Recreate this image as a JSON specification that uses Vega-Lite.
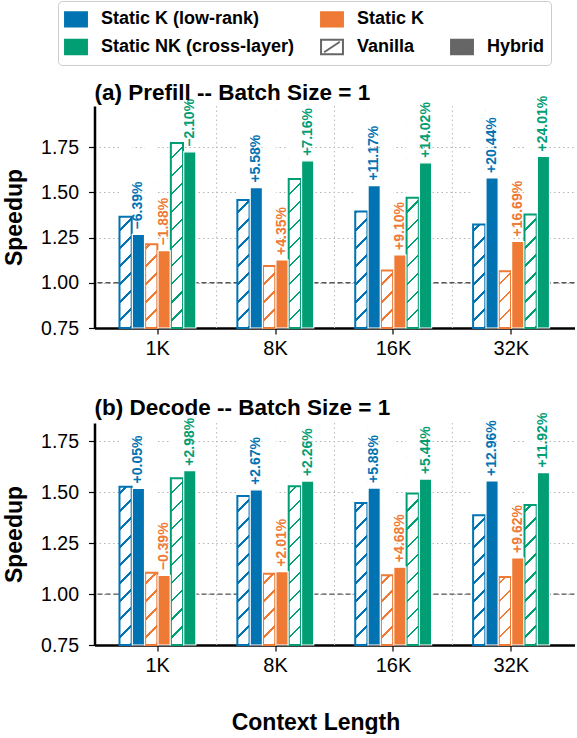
{
  "$schema": "https://vega.github.io/schema/vega-lite/v6.json",
  "autosize": {"type": "pad"},
  "padding": {"left": 3.5, "top": 0, "right": 0, "bottom": 0},
  "background": "white",
  "config": {
    "view": {"stroke": null},
    "font": "Liberation Sans",
    "axis": {"zindex": 1},
    "axisX": {"grid": false, "domainColor": "black", "domainWidth": 2.5, "tickColor": "black", "tickWidth": 1.2, "tickSize": 6, "labelFontSize": 20, "labelColor": "black", "labelAngle": 0, "labelPadding": 4, "titleFontSize": 23, "titleFontWeight": "bold", "titleColor": "black"},
    "axisY": {"grid": true, "gridDash": [1.5, 3], "gridColor": "#b5b5b5", "gridWidth": 1, "domainColor": "black", "domainWidth": 2.5, "tickColor": "black", "tickWidth": 1.2, "tickSize": 6, "labelFontSize": 19.5, "labelColor": "black", "labelPadding": 10, "titleFontSize": 23, "titleFontWeight": "bold", "titleColor": "black", "titlePadding": 14}
  },
  "datasets": {
    "legend": [
      {"entry": "Static K (low-rank)"}, {"entry": "Static NK (cross-layer)"}, {"entry": "Static K"},
      {"entry": "Vanilla"}, {"entry": " "}, {"entry": "Hybrid"}
    ],
    "bars": [
      {"phase": "Prefill", "ctx": "1K", "method": "lr", "kind": "Vanilla", "slot": "lrV", "speedup": 1.365, "label": ""},
      {"phase": "Prefill", "ctx": "1K", "method": "lr", "kind": "Hybrid", "slot": "lrH", "speedup": 1.267, "label": "−6.39%"},
      {"phase": "Prefill", "ctx": "1K", "method": "sk", "kind": "Vanilla", "slot": "skV", "speedup": 1.213, "label": ""},
      {"phase": "Prefill", "ctx": "1K", "method": "sk", "kind": "Hybrid", "slot": "skH", "speedup": 1.178, "label": "−1.88%"},
      {"phase": "Prefill", "ctx": "1K", "method": "nk", "kind": "Vanilla", "slot": "nkV", "speedup": 1.772, "label": ""},
      {"phase": "Prefill", "ctx": "1K", "method": "nk", "kind": "Hybrid", "slot": "nkH", "speedup": 1.724, "label": "−2.10%"},
      {"phase": "Prefill", "ctx": "8K", "method": "lr", "kind": "Vanilla", "slot": "lrV", "speedup": 1.457, "label": ""},
      {"phase": "Prefill", "ctx": "8K", "method": "lr", "kind": "Hybrid", "slot": "lrH", "speedup": 1.526, "label": "+5.58%"},
      {"phase": "Prefill", "ctx": "8K", "method": "sk", "kind": "Vanilla", "slot": "skV", "speedup": 1.092, "label": ""},
      {"phase": "Prefill", "ctx": "8K", "method": "sk", "kind": "Hybrid", "slot": "skH", "speedup": 1.126, "label": "+4.35%"},
      {"phase": "Prefill", "ctx": "8K", "method": "nk", "kind": "Vanilla", "slot": "nkV", "speedup": 1.574, "label": ""},
      {"phase": "Prefill", "ctx": "8K", "method": "nk", "kind": "Hybrid", "slot": "nkH", "speedup": 1.674, "label": "+7.16%"},
      {"phase": "Prefill", "ctx": "16K", "method": "lr", "kind": "Vanilla", "slot": "lrV", "speedup": 1.394, "label": ""},
      {"phase": "Prefill", "ctx": "16K", "method": "lr", "kind": "Hybrid", "slot": "lrH", "speedup": 1.537, "label": "+11.17%"},
      {"phase": "Prefill", "ctx": "16K", "method": "sk", "kind": "Vanilla", "slot": "skV", "speedup": 1.068, "label": ""},
      {"phase": "Prefill", "ctx": "16K", "method": "sk", "kind": "Hybrid", "slot": "skH", "speedup": 1.154, "label": "+9.10%"},
      {"phase": "Prefill", "ctx": "16K", "method": "nk", "kind": "Vanilla", "slot": "nkV", "speedup": 1.470, "label": ""},
      {"phase": "Prefill", "ctx": "16K", "method": "nk", "kind": "Hybrid", "slot": "nkH", "speedup": 1.663, "label": "+14.02%"},
      {"phase": "Prefill", "ctx": "32K", "method": "lr", "kind": "Vanilla", "slot": "lrV", "speedup": 1.322, "label": ""},
      {"phase": "Prefill", "ctx": "32K", "method": "lr", "kind": "Hybrid", "slot": "lrH", "speedup": 1.579, "label": "+20.44%"},
      {"phase": "Prefill", "ctx": "32K", "method": "sk", "kind": "Vanilla", "slot": "skV", "speedup": 1.063, "label": ""},
      {"phase": "Prefill", "ctx": "32K", "method": "sk", "kind": "Hybrid", "slot": "skH", "speedup": 1.228, "label": "+16.69%"},
      {"phase": "Prefill", "ctx": "32K", "method": "nk", "kind": "Vanilla", "slot": "nkV", "speedup": 1.377, "label": ""},
      {"phase": "Prefill", "ctx": "32K", "method": "nk", "kind": "Hybrid", "slot": "nkH", "speedup": 1.698, "label": "+24.01%"},
      {"phase": "Decode", "ctx": "1K", "method": "lr", "kind": "Vanilla", "slot": "lrV", "speedup": 1.526, "label": ""},
      {"phase": "Decode", "ctx": "1K", "method": "lr", "kind": "Hybrid", "slot": "lrH", "speedup": 1.518, "label": "+0.05%"},
      {"phase": "Decode", "ctx": "1K", "method": "sk", "kind": "Vanilla", "slot": "skV", "speedup": 1.105, "label": ""},
      {"phase": "Decode", "ctx": "1K", "method": "sk", "kind": "Hybrid", "slot": "skH", "speedup": 1.092, "label": "−0.39%"},
      {"phase": "Decode", "ctx": "1K", "method": "nk", "kind": "Vanilla", "slot": "nkV", "speedup": 1.568, "label": ""},
      {"phase": "Decode", "ctx": "1K", "method": "nk", "kind": "Hybrid", "slot": "nkH", "speedup": 1.605, "label": "+2.98%"},
      {"phase": "Decode", "ctx": "8K", "method": "lr", "kind": "Vanilla", "slot": "lrV", "speedup": 1.481, "label": ""},
      {"phase": "Decode", "ctx": "8K", "method": "lr", "kind": "Hybrid", "slot": "lrH", "speedup": 1.511, "label": "+2.67%"},
      {"phase": "Decode", "ctx": "8K", "method": "sk", "kind": "Vanilla", "slot": "skV", "speedup": 1.100, "label": ""},
      {"phase": "Decode", "ctx": "8K", "method": "sk", "kind": "Hybrid", "slot": "skH", "speedup": 1.110, "label": "+2.01%"},
      {"phase": "Decode", "ctx": "8K", "method": "nk", "kind": "Vanilla", "slot": "nkV", "speedup": 1.529, "label": ""},
      {"phase": "Decode", "ctx": "8K", "method": "nk", "kind": "Hybrid", "slot": "nkH", "speedup": 1.554, "label": "+2.26%"},
      {"phase": "Decode", "ctx": "16K", "method": "lr", "kind": "Vanilla", "slot": "lrV", "speedup": 1.447, "label": ""},
      {"phase": "Decode", "ctx": "16K", "method": "lr", "kind": "Hybrid", "slot": "lrH", "speedup": 1.520, "label": "+5.88%"},
      {"phase": "Decode", "ctx": "16K", "method": "sk", "kind": "Vanilla", "slot": "skV", "speedup": 1.092, "label": ""},
      {"phase": "Decode", "ctx": "16K", "method": "sk", "kind": "Hybrid", "slot": "skH", "speedup": 1.132, "label": "+4.68%"},
      {"phase": "Decode", "ctx": "16K", "method": "nk", "kind": "Vanilla", "slot": "nkV", "speedup": 1.493, "label": ""},
      {"phase": "Decode", "ctx": "16K", "method": "nk", "kind": "Hybrid", "slot": "nkH", "speedup": 1.564, "label": "+5.44%"},
      {"phase": "Decode", "ctx": "32K", "method": "lr", "kind": "Vanilla", "slot": "lrV", "speedup": 1.387, "label": ""},
      {"phase": "Decode", "ctx": "32K", "method": "lr", "kind": "Hybrid", "slot": "lrH", "speedup": 1.555, "label": "+12.96%"},
      {"phase": "Decode", "ctx": "32K", "method": "sk", "kind": "Vanilla", "slot": "skV", "speedup": 1.083, "label": ""},
      {"phase": "Decode", "ctx": "32K", "method": "sk", "kind": "Hybrid", "slot": "skH", "speedup": 1.177, "label": "+9.62%"},
      {"phase": "Decode", "ctx": "32K", "method": "nk", "kind": "Vanilla", "slot": "nkV", "speedup": 1.437, "label": ""},
      {"phase": "Decode", "ctx": "32K", "method": "nk", "kind": "Hybrid", "slot": "nkH", "speedup": 1.596, "label": "+11.92%"}
    ]
  },
  "bounds": "flush",
  "spacing": 95,
  "resolve": {"scale": {"fill": "independent", "stroke": "independent", "shape": "independent", "x": "independent", "y": "independent", "xOffset": "independent"}},
  "vconcat": [
    {
      "width": 480,
      "height": 1,
      "data": {"name": "legend"},
      "mark": {"type": "point", "opacity": 0, "filled": true, "size": 480, "strokeWidth": 2},
      "encoding": {
        "fill": {"field": "entry", "type": "nominal",
          "scale": {"domain": ["Static K (low-rank)", "Static NK (cross-layer)", "Static K", "Vanilla", " ", "Hybrid"], "range": ["#0173B2", "#029E73", "#EE7A35", "#ffffff", "rgba(0,0,0,0)", "#666666"]},
          "legend": {"title": null, "orient": "none", "legendX": -36.5, "legendY": -9, "columns": 3, "symbolSize": 480, "symbolStrokeWidth": 2, "symbolOpacity": 1, "labelFontSize": 18, "labelFontWeight": "bold", "labelColor": "black", "labelLimit": 400, "labelOffset": 13, "rowPadding": 4, "columnPadding": 22, "padding": 6, "strokeColor": "#cccccc", "fillColor": "white", "cornerRadius": 4}},
        "stroke": {"field": "entry", "type": "nominal",
          "scale": {"domain": ["Static K (low-rank)", "Static NK (cross-layer)", "Static K", "Vanilla", " ", "Hybrid"], "range": ["#0173B2", "#029E73", "#EE7A35", "#666666", "rgba(0,0,0,0)", "#666666"]},
          "legend": {"title": null, "orient": "none", "legendX": -36.5, "legendY": -9, "columns": 3, "symbolSize": 480, "symbolStrokeWidth": 2, "symbolOpacity": 1, "labelFontSize": 18, "labelFontWeight": "bold", "labelColor": "black", "labelLimit": 400, "labelOffset": 13, "rowPadding": 4, "columnPadding": 22, "padding": 6, "strokeColor": "#cccccc", "fillColor": "white", "cornerRadius": 4}},
        "shape": {"field": "entry", "type": "nominal",
          "scale": {"domain": ["Static K (low-rank)", "Static NK (cross-layer)", "Static K", "Vanilla", " ", "Hybrid"], "range": ["M-1,-0.66H1V0.66H-1Z", "M-1,-0.66H1V0.66H-1Z", "M-1,-0.66H1V0.66H-1Z", "M-1,-0.66H1V0.66H-1Z M-0.72,0.48L0.72,-0.48", "M-1,-0.66H1V0.66H-1Z", "M-1,-0.66H1V0.66H-1Z"]},
          "legend": {"title": null, "orient": "none", "legendX": -36.5, "legendY": -9, "columns": 3, "symbolSize": 480, "symbolStrokeWidth": 2, "symbolOpacity": 1, "labelFontSize": 18, "labelFontWeight": "bold", "labelColor": "black", "labelLimit": 400, "labelOffset": 13, "rowPadding": 4, "columnPadding": 22, "padding": 6, "strokeColor": "#cccccc", "fillColor": "white", "cornerRadius": 4}}
      }
    },
    {
      "width": 480,
      "height": 222,
      "title": {"text": "(a) Prefill -- Batch Size = 1", "anchor": "start", "frame": "group", "fontSize": 22.5, "fontWeight": "bold", "offset": -27, "baseline": "alphabetic", "color": "black"},
      "layer": [
        {"data": {"name": "bars"}, "transform": [{"filter": "datum.phase==='Prefill' && datum.kind==='Hybrid' && datum.method==='lr' && datum.ctx!=='1K'"}],
         "mark": {"type": "rule", "color": "#bbbbbb", "strokeDash": [1.5, 3], "strokeWidth": 1},
         "encoding": {"x": {"field": "ctx", "type": "nominal", "title": null, "bandPosition": 0, "scale": {"domain": ["1K", "8K", "16K", "32K"], "paddingInner": 0, "paddingOuter": 0.036}}}},
        {"data": {"values": [{}]},
         "mark": {"type": "rule", "color": "#555555", "strokeDash": [5, 3], "strokeWidth": 1.3},
         "encoding": {"y": {"datum": 1, "type": "quantitative"}}},
        {"data": {"name": "bars"}, "transform": [{"filter": "datum.phase==='Prefill' && datum.kind==='Vanilla' && datum.method==='lr'"}],
         "mark": {"type": "bar", "orient": "vertical", "width": 12.2, "strokeWidth": 0, "fill": {"gradient": "linear", "x1": 0, "y1": 0, "x2": 0.0578, "y2": 1.0518, "stops": [
           {"offset": 0, "color": "#ffffff"}, {"offset": 0.0654, "color": "#ffffff"}, {"offset": 0.0654, "color": "#0173B2"}, {"offset": 0.0769, "color": "#0173B2"},
           {"offset": 0.0769, "color": "#ffffff"}, {"offset": 0.1423, "color": "#ffffff"}, {"offset": 0.1423, "color": "#0173B2"}, {"offset": 0.1538, "color": "#0173B2"},
           {"offset": 0.1538, "color": "#ffffff"}, {"offset": 0.2192, "color": "#ffffff"}, {"offset": 0.2192, "color": "#0173B2"}, {"offset": 0.2308, "color": "#0173B2"},
           {"offset": 0.2308, "color": "#ffffff"}, {"offset": 0.2962, "color": "#ffffff"}, {"offset": 0.2962, "color": "#0173B2"}, {"offset": 0.3077, "color": "#0173B2"},
           {"offset": 0.3077, "color": "#ffffff"}, {"offset": 0.3731, "color": "#ffffff"}, {"offset": 0.3731, "color": "#0173B2"}, {"offset": 0.3846, "color": "#0173B2"},
           {"offset": 0.3846, "color": "#ffffff"}, {"offset": 0.45, "color": "#ffffff"}, {"offset": 0.45, "color": "#0173B2"}, {"offset": 0.4615, "color": "#0173B2"},
           {"offset": 0.4615, "color": "#ffffff"}, {"offset": 0.5269, "color": "#ffffff"}, {"offset": 0.5269, "color": "#0173B2"}, {"offset": 0.5385, "color": "#0173B2"},
           {"offset": 0.5385, "color": "#ffffff"}, {"offset": 0.6038, "color": "#ffffff"}, {"offset": 0.6038, "color": "#0173B2"}, {"offset": 0.6154, "color": "#0173B2"},
           {"offset": 0.6154, "color": "#ffffff"}, {"offset": 0.6808, "color": "#ffffff"}, {"offset": 0.6808, "color": "#0173B2"}, {"offset": 0.6923, "color": "#0173B2"},
           {"offset": 0.6923, "color": "#ffffff"}, {"offset": 0.7577, "color": "#ffffff"}, {"offset": 0.7577, "color": "#0173B2"}, {"offset": 0.7692, "color": "#0173B2"},
           {"offset": 0.7692, "color": "#ffffff"}, {"offset": 0.8346, "color": "#ffffff"}, {"offset": 0.8346, "color": "#0173B2"}, {"offset": 0.8462, "color": "#0173B2"},
           {"offset": 0.8462, "color": "#ffffff"}, {"offset": 0.9115, "color": "#ffffff"}, {"offset": 0.9115, "color": "#0173B2"}, {"offset": 0.9231, "color": "#0173B2"},
           {"offset": 0.9231, "color": "#ffffff"}, {"offset": 0.9885, "color": "#ffffff"}, {"offset": 0.9885, "color": "#0173B2"}, {"offset": 1, "color": "#0173B2"}]}},
         "encoding": {
           "x": {"field": "ctx", "type": "nominal", "title": null, "scale": {"domain": ["1K", "8K", "16K", "32K"], "paddingInner": 0, "paddingOuter": 0.036}},
           "xOffset": {"field": "slot", "type": "nominal", "scale": {"domain": ["_l", "lrV", "lrH", "skV", "skH", "nkV", "nkH", "_r"], "paddingInner": 0, "paddingOuter": 0.59}},
           "y": {"datum": 1.977, "type": "quantitative"}, "y2": {"datum": 0.75}}},
        {"data": {"name": "bars"}, "transform": [{"filter": "datum.phase==='Prefill' && datum.kind==='Vanilla' && datum.method==='sk'"}],
         "mark": {"type": "bar", "orient": "vertical", "width": 12.2, "strokeWidth": 0, "fill": {"gradient": "linear", "x1": 0, "y1": 0, "x2": 0.0578, "y2": 1.0518, "stops": [
           {"offset": 0, "color": "#ffffff"}, {"offset": 0.0654, "color": "#ffffff"}, {"offset": 0.0654, "color": "#EE7A35"}, {"offset": 0.0769, "color": "#EE7A35"},
           {"offset": 0.0769, "color": "#ffffff"}, {"offset": 0.1423, "color": "#ffffff"}, {"offset": 0.1423, "color": "#EE7A35"}, {"offset": 0.1538, "color": "#EE7A35"},
           {"offset": 0.1538, "color": "#ffffff"}, {"offset": 0.2192, "color": "#ffffff"}, {"offset": 0.2192, "color": "#EE7A35"}, {"offset": 0.2308, "color": "#EE7A35"},
           {"offset": 0.2308, "color": "#ffffff"}, {"offset": 0.2962, "color": "#ffffff"}, {"offset": 0.2962, "color": "#EE7A35"}, {"offset": 0.3077, "color": "#EE7A35"},
           {"offset": 0.3077, "color": "#ffffff"}, {"offset": 0.3731, "color": "#ffffff"}, {"offset": 0.3731, "color": "#EE7A35"}, {"offset": 0.3846, "color": "#EE7A35"},
           {"offset": 0.3846, "color": "#ffffff"}, {"offset": 0.45, "color": "#ffffff"}, {"offset": 0.45, "color": "#EE7A35"}, {"offset": 0.4615, "color": "#EE7A35"},
           {"offset": 0.4615, "color": "#ffffff"}, {"offset": 0.5269, "color": "#ffffff"}, {"offset": 0.5269, "color": "#EE7A35"}, {"offset": 0.5385, "color": "#EE7A35"},
           {"offset": 0.5385, "color": "#ffffff"}, {"offset": 0.6038, "color": "#ffffff"}, {"offset": 0.6038, "color": "#EE7A35"}, {"offset": 0.6154, "color": "#EE7A35"},
           {"offset": 0.6154, "color": "#ffffff"}, {"offset": 0.6808, "color": "#ffffff"}, {"offset": 0.6808, "color": "#EE7A35"}, {"offset": 0.6923, "color": "#EE7A35"},
           {"offset": 0.6923, "color": "#ffffff"}, {"offset": 0.7577, "color": "#ffffff"}, {"offset": 0.7577, "color": "#EE7A35"}, {"offset": 0.7692, "color": "#EE7A35"},
           {"offset": 0.7692, "color": "#ffffff"}, {"offset": 0.8346, "color": "#ffffff"}, {"offset": 0.8346, "color": "#EE7A35"}, {"offset": 0.8462, "color": "#EE7A35"},
           {"offset": 0.8462, "color": "#ffffff"}, {"offset": 0.9115, "color": "#ffffff"}, {"offset": 0.9115, "color": "#EE7A35"}, {"offset": 0.9231, "color": "#EE7A35"},
           {"offset": 0.9231, "color": "#ffffff"}, {"offset": 0.9885, "color": "#ffffff"}, {"offset": 0.9885, "color": "#EE7A35"}, {"offset": 1, "color": "#EE7A35"}]}},
         "encoding": {
           "x": {"field": "ctx", "type": "nominal", "title": null, "scale": {"domain": ["1K", "8K", "16K", "32K"], "paddingInner": 0, "paddingOuter": 0.036}},
           "xOffset": {"field": "slot", "type": "nominal", "scale": {"domain": ["_l", "lrV", "lrH", "skV", "skH", "nkV", "nkH", "_r"], "paddingInner": 0, "paddingOuter": 0.59}},
           "y": {"datum": 1.977, "type": "quantitative"}, "y2": {"datum": 0.75}}},
        {"data": {"name": "bars"}, "transform": [{"filter": "datum.phase==='Prefill' && datum.kind==='Vanilla' && datum.method==='nk'"}],
         "mark": {"type": "bar", "orient": "vertical", "width": 12.2, "strokeWidth": 0, "fill": {"gradient": "linear", "x1": 0, "y1": 0, "x2": 0.0578, "y2": 1.0518, "stops": [
           {"offset": 0, "color": "#ffffff"}, {"offset": 0.0654, "color": "#ffffff"}, {"offset": 0.0654, "color": "#029E73"}, {"offset": 0.0769, "color": "#029E73"},
           {"offset": 0.0769, "color": "#ffffff"}, {"offset": 0.1423, "color": "#ffffff"}, {"offset": 0.1423, "color": "#029E73"}, {"offset": 0.1538, "color": "#029E73"},
           {"offset": 0.1538, "color": "#ffffff"}, {"offset": 0.2192, "color": "#ffffff"}, {"offset": 0.2192, "color": "#029E73"}, {"offset": 0.2308, "color": "#029E73"},
           {"offset": 0.2308, "color": "#ffffff"}, {"offset": 0.2962, "color": "#ffffff"}, {"offset": 0.2962, "color": "#029E73"}, {"offset": 0.3077, "color": "#029E73"},
           {"offset": 0.3077, "color": "#ffffff"}, {"offset": 0.3731, "color": "#ffffff"}, {"offset": 0.3731, "color": "#029E73"}, {"offset": 0.3846, "color": "#029E73"},
           {"offset": 0.3846, "color": "#ffffff"}, {"offset": 0.45, "color": "#ffffff"}, {"offset": 0.45, "color": "#029E73"}, {"offset": 0.4615, "color": "#029E73"},
           {"offset": 0.4615, "color": "#ffffff"}, {"offset": 0.5269, "color": "#ffffff"}, {"offset": 0.5269, "color": "#029E73"}, {"offset": 0.5385, "color": "#029E73"},
           {"offset": 0.5385, "color": "#ffffff"}, {"offset": 0.6038, "color": "#ffffff"}, {"offset": 0.6038, "color": "#029E73"}, {"offset": 0.6154, "color": "#029E73"},
           {"offset": 0.6154, "color": "#ffffff"}, {"offset": 0.6808, "color": "#ffffff"}, {"offset": 0.6808, "color": "#029E73"}, {"offset": 0.6923, "color": "#029E73"},
           {"offset": 0.6923, "color": "#ffffff"}, {"offset": 0.7577, "color": "#ffffff"}, {"offset": 0.7577, "color": "#029E73"}, {"offset": 0.7692, "color": "#029E73"},
           {"offset": 0.7692, "color": "#ffffff"}, {"offset": 0.8346, "color": "#ffffff"}, {"offset": 0.8346, "color": "#029E73"}, {"offset": 0.8462, "color": "#029E73"},
           {"offset": 0.8462, "color": "#ffffff"}, {"offset": 0.9115, "color": "#ffffff"}, {"offset": 0.9115, "color": "#029E73"}, {"offset": 0.9231, "color": "#029E73"},
           {"offset": 0.9231, "color": "#ffffff"}, {"offset": 0.9885, "color": "#ffffff"}, {"offset": 0.9885, "color": "#029E73"}, {"offset": 1, "color": "#029E73"}]}},
         "encoding": {
           "x": {"field": "ctx", "type": "nominal", "title": null, "scale": {"domain": ["1K", "8K", "16K", "32K"], "paddingInner": 0, "paddingOuter": 0.036}},
           "xOffset": {"field": "slot", "type": "nominal", "scale": {"domain": ["_l", "lrV", "lrH", "skV", "skH", "nkV", "nkH", "_r"], "paddingInner": 0, "paddingOuter": 0.59}},
           "y": {"datum": 1.977, "type": "quantitative"}, "y2": {"datum": 0.75}}},
        {"data": {"name": "bars"}, "transform": [{"filter": "datum.phase==='Prefill' && datum.kind==='Vanilla'"}],
         "mark": {"type": "bar", "orient": "vertical", "width": 13.2, "strokeWidth": 0, "fill": "white", "clip": true},
         "encoding": {
           "x": {"field": "ctx", "type": "nominal", "title": null, "scale": {"domain": ["1K", "8K", "16K", "32K"], "paddingInner": 0, "paddingOuter": 0.036}},
           "xOffset": {"field": "slot", "type": "nominal", "scale": {"domain": ["_l", "lrV", "lrH", "skV", "skH", "nkV", "nkH", "_r"], "paddingInner": 0, "paddingOuter": 0.59}},
           "y": {"field": "speedup", "type": "quantitative", "title": "Speedup", "scale": {"domain": [0.75, 1.977], "nice": false, "zero": false}, "axis": {"values": [0.75, 1, 1.25, 1.5, 1.75], "format": ".2f"}},
           "y2": {"datum": 2.6}}},
        {"data": {"name": "bars"}, "transform": [{"filter": "datum.phase==='Prefill' && datum.kind==='Vanilla'"}],
         "mark": {"type": "bar", "orient": "vertical", "width": 12.2, "fillOpacity": 0, "strokeWidth": 2},
         "encoding": {
           "x": {"field": "ctx", "type": "nominal", "title": null, "scale": {"domain": ["1K", "8K", "16K", "32K"], "paddingInner": 0, "paddingOuter": 0.036}},
           "xOffset": {"field": "slot", "type": "nominal", "scale": {"domain": ["_l", "lrV", "lrH", "skV", "skH", "nkV", "nkH", "_r"], "paddingInner": 0, "paddingOuter": 0.59}},
           "y": {"field": "speedup", "type": "quantitative", "title": "Speedup", "scale": {"domain": [0.75, 1.977], "nice": false, "zero": false}, "axis": {"values": [0.75, 1, 1.25, 1.5, 1.75], "format": ".2f"}},
           "y2": {"datum": 0.75},
           "stroke": {"field": "method", "type": "nominal", "scale": {"domain": ["lr", "sk", "nk"], "range": ["#0173B2", "#EE7A35", "#029E73"]}, "legend": null}}},
        {"data": {"name": "bars"}, "transform": [{"filter": "datum.phase==='Prefill' && datum.kind==='Hybrid'"}],
         "mark": {"type": "bar", "orient": "vertical", "width": 12.2, "stroke": "white", "strokeWidth": 1.2},
         "encoding": {
           "x": {"field": "ctx", "type": "nominal", "title": null, "scale": {"domain": ["1K", "8K", "16K", "32K"], "paddingInner": 0, "paddingOuter": 0.036}},
           "xOffset": {"field": "slot", "type": "nominal", "scale": {"domain": ["_l", "lrV", "lrH", "skV", "skH", "nkV", "nkH", "_r"], "paddingInner": 0, "paddingOuter": 0.59}},
           "y": {"field": "speedup", "type": "quantitative", "title": "Speedup", "scale": {"domain": [0.75, 1.977], "nice": false, "zero": false}, "axis": {"values": [0.75, 1, 1.25, 1.5, 1.75], "format": ".2f"}},
           "y2": {"datum": 0.75},
           "fill": {"field": "method", "type": "nominal", "scale": {"domain": ["lr", "sk", "nk"], "range": ["#0173B2", "#EE7A35", "#029E73"]}, "legend": null}}},
        {"data": {"name": "bars"}, "transform": [{"filter": "datum.phase==='Prefill' && datum.kind==='Hybrid'"}],
         "mark": {"type": "text", "angle": 270, "align": "left", "baseline": "middle", "dx": 5, "fontSize": 14, "fontWeight": "bold"},
         "encoding": {
           "x": {"field": "ctx", "type": "nominal", "title": null, "scale": {"domain": ["1K", "8K", "16K", "32K"], "paddingInner": 0, "paddingOuter": 0.036}},
           "xOffset": {"field": "slot", "type": "nominal", "scale": {"domain": ["_l", "lrV", "lrH", "skV", "skH", "nkV", "nkH", "_r"], "paddingInner": 0, "paddingOuter": 0.59}},
           "y": {"field": "speedup", "type": "quantitative", "title": "Speedup", "scale": {"domain": [0.75, 1.977], "nice": false, "zero": false}, "axis": {"values": [0.75, 1, 1.25, 1.5, 1.75], "format": ".2f"}},
           "text": {"field": "label"},
           "fill": {"field": "method", "type": "nominal", "scale": {"domain": ["lr", "sk", "nk"], "range": ["#0173B2", "#EE7A35", "#029E73"]}, "legend": null}}}
      ]
    },
    {
      "width": 480,
      "height": 222,
      "title": {"text": "(b) Decode -- Batch Size = 1", "anchor": "start", "frame": "group", "fontSize": 22.5, "fontWeight": "bold", "offset": -25, "baseline": "alphabetic", "color": "black"},
      "layer": [
        {"data": {"name": "bars"}, "transform": [{"filter": "datum.phase==='Decode' && datum.kind==='Hybrid' && datum.method==='lr' && datum.ctx!=='1K'"}],
         "mark": {"type": "rule", "color": "#bbbbbb", "strokeDash": [1.5, 3], "strokeWidth": 1},
         "encoding": {"x": {"field": "ctx", "type": "nominal", "title": "Context Length", "bandPosition": 0, "scale": {"domain": ["1K", "8K", "16K", "32K"], "paddingInner": 0, "paddingOuter": 0.036}, "axis": {"titleX": 221, "titlePadding": 36}}}},
        {"data": {"values": [{}]},
         "mark": {"type": "rule", "color": "#555555", "strokeDash": [5, 3], "strokeWidth": 1.3},
         "encoding": {"y": {"datum": 1, "type": "quantitative"}}},
        {"data": {"name": "bars"}, "transform": [{"filter": "datum.phase==='Decode' && datum.kind==='Vanilla' && datum.method==='lr'"}],
         "mark": {"type": "bar", "orient": "vertical", "width": 12.2, "strokeWidth": 0, "fill": {"gradient": "linear", "x1": 0, "y1": 0, "x2": 0.0578, "y2": 1.0518, "stops": [
           {"offset": 0, "color": "#ffffff"}, {"offset": 0.0654, "color": "#ffffff"}, {"offset": 0.0654, "color": "#0173B2"}, {"offset": 0.0769, "color": "#0173B2"},
           {"offset": 0.0769, "color": "#ffffff"}, {"offset": 0.1423, "color": "#ffffff"}, {"offset": 0.1423, "color": "#0173B2"}, {"offset": 0.1538, "color": "#0173B2"},
           {"offset": 0.1538, "color": "#ffffff"}, {"offset": 0.2192, "color": "#ffffff"}, {"offset": 0.2192, "color": "#0173B2"}, {"offset": 0.2308, "color": "#0173B2"},
           {"offset": 0.2308, "color": "#ffffff"}, {"offset": 0.2962, "color": "#ffffff"}, {"offset": 0.2962, "color": "#0173B2"}, {"offset": 0.3077, "color": "#0173B2"},
           {"offset": 0.3077, "color": "#ffffff"}, {"offset": 0.3731, "color": "#ffffff"}, {"offset": 0.3731, "color": "#0173B2"}, {"offset": 0.3846, "color": "#0173B2"},
           {"offset": 0.3846, "color": "#ffffff"}, {"offset": 0.45, "color": "#ffffff"}, {"offset": 0.45, "color": "#0173B2"}, {"offset": 0.4615, "color": "#0173B2"},
           {"offset": 0.4615, "color": "#ffffff"}, {"offset": 0.5269, "color": "#ffffff"}, {"offset": 0.5269, "color": "#0173B2"}, {"offset": 0.5385, "color": "#0173B2"},
           {"offset": 0.5385, "color": "#ffffff"}, {"offset": 0.6038, "color": "#ffffff"}, {"offset": 0.6038, "color": "#0173B2"}, {"offset": 0.6154, "color": "#0173B2"},
           {"offset": 0.6154, "color": "#ffffff"}, {"offset": 0.6808, "color": "#ffffff"}, {"offset": 0.6808, "color": "#0173B2"}, {"offset": 0.6923, "color": "#0173B2"},
           {"offset": 0.6923, "color": "#ffffff"}, {"offset": 0.7577, "color": "#ffffff"}, {"offset": 0.7577, "color": "#0173B2"}, {"offset": 0.7692, "color": "#0173B2"},
           {"offset": 0.7692, "color": "#ffffff"}, {"offset": 0.8346, "color": "#ffffff"}, {"offset": 0.8346, "color": "#0173B2"}, {"offset": 0.8462, "color": "#0173B2"},
           {"offset": 0.8462, "color": "#ffffff"}, {"offset": 0.9115, "color": "#ffffff"}, {"offset": 0.9115, "color": "#0173B2"}, {"offset": 0.9231, "color": "#0173B2"},
           {"offset": 0.9231, "color": "#ffffff"}, {"offset": 0.9885, "color": "#ffffff"}, {"offset": 0.9885, "color": "#0173B2"}, {"offset": 1, "color": "#0173B2"}]}},
         "encoding": {
           "x": {"field": "ctx", "type": "nominal", "title": "Context Length", "scale": {"domain": ["1K", "8K", "16K", "32K"], "paddingInner": 0, "paddingOuter": 0.036}},
           "xOffset": {"field": "slot", "type": "nominal", "scale": {"domain": ["_l", "lrV", "lrH", "skV", "skH", "nkV", "nkH", "_r"], "paddingInner": 0, "paddingOuter": 0.59}},
           "y": {"datum": 1.839, "type": "quantitative"}, "y2": {"datum": 0.75}}},
        {"data": {"name": "bars"}, "transform": [{"filter": "datum.phase==='Decode' && datum.kind==='Vanilla' && datum.method==='sk'"}],
         "mark": {"type": "bar", "orient": "vertical", "width": 12.2, "strokeWidth": 0, "fill": {"gradient": "linear", "x1": 0, "y1": 0, "x2": 0.0578, "y2": 1.0518, "stops": [
           {"offset": 0, "color": "#ffffff"}, {"offset": 0.0654, "color": "#ffffff"}, {"offset": 0.0654, "color": "#EE7A35"}, {"offset": 0.0769, "color": "#EE7A35"},
           {"offset": 0.0769, "color": "#ffffff"}, {"offset": 0.1423, "color": "#ffffff"}, {"offset": 0.1423, "color": "#EE7A35"}, {"offset": 0.1538, "color": "#EE7A35"},
           {"offset": 0.1538, "color": "#ffffff"}, {"offset": 0.2192, "color": "#ffffff"}, {"offset": 0.2192, "color": "#EE7A35"}, {"offset": 0.2308, "color": "#EE7A35"},
           {"offset": 0.2308, "color": "#ffffff"}, {"offset": 0.2962, "color": "#ffffff"}, {"offset": 0.2962, "color": "#EE7A35"}, {"offset": 0.3077, "color": "#EE7A35"},
           {"offset": 0.3077, "color": "#ffffff"}, {"offset": 0.3731, "color": "#ffffff"}, {"offset": 0.3731, "color": "#EE7A35"}, {"offset": 0.3846, "color": "#EE7A35"},
           {"offset": 0.3846, "color": "#ffffff"}, {"offset": 0.45, "color": "#ffffff"}, {"offset": 0.45, "color": "#EE7A35"}, {"offset": 0.4615, "color": "#EE7A35"},
           {"offset": 0.4615, "color": "#ffffff"}, {"offset": 0.5269, "color": "#ffffff"}, {"offset": 0.5269, "color": "#EE7A35"}, {"offset": 0.5385, "color": "#EE7A35"},
           {"offset": 0.5385, "color": "#ffffff"}, {"offset": 0.6038, "color": "#ffffff"}, {"offset": 0.6038, "color": "#EE7A35"}, {"offset": 0.6154, "color": "#EE7A35"},
           {"offset": 0.6154, "color": "#ffffff"}, {"offset": 0.6808, "color": "#ffffff"}, {"offset": 0.6808, "color": "#EE7A35"}, {"offset": 0.6923, "color": "#EE7A35"},
           {"offset": 0.6923, "color": "#ffffff"}, {"offset": 0.7577, "color": "#ffffff"}, {"offset": 0.7577, "color": "#EE7A35"}, {"offset": 0.7692, "color": "#EE7A35"},
           {"offset": 0.7692, "color": "#ffffff"}, {"offset": 0.8346, "color": "#ffffff"}, {"offset": 0.8346, "color": "#EE7A35"}, {"offset": 0.8462, "color": "#EE7A35"},
           {"offset": 0.8462, "color": "#ffffff"}, {"offset": 0.9115, "color": "#ffffff"}, {"offset": 0.9115, "color": "#EE7A35"}, {"offset": 0.9231, "color": "#EE7A35"},
           {"offset": 0.9231, "color": "#ffffff"}, {"offset": 0.9885, "color": "#ffffff"}, {"offset": 0.9885, "color": "#EE7A35"}, {"offset": 1, "color": "#EE7A35"}]}},
         "encoding": {
           "x": {"field": "ctx", "type": "nominal", "title": "Context Length", "scale": {"domain": ["1K", "8K", "16K", "32K"], "paddingInner": 0, "paddingOuter": 0.036}},
           "xOffset": {"field": "slot", "type": "nominal", "scale": {"domain": ["_l", "lrV", "lrH", "skV", "skH", "nkV", "nkH", "_r"], "paddingInner": 0, "paddingOuter": 0.59}},
           "y": {"datum": 1.839, "type": "quantitative"}, "y2": {"datum": 0.75}}},
        {"data": {"name": "bars"}, "transform": [{"filter": "datum.phase==='Decode' && datum.kind==='Vanilla' && datum.method==='nk'"}],
         "mark": {"type": "bar", "orient": "vertical", "width": 12.2, "strokeWidth": 0, "fill": {"gradient": "linear", "x1": 0, "y1": 0, "x2": 0.0578, "y2": 1.0518, "stops": [
           {"offset": 0, "color": "#ffffff"}, {"offset": 0.0654, "color": "#ffffff"}, {"offset": 0.0654, "color": "#029E73"}, {"offset": 0.0769, "color": "#029E73"},
           {"offset": 0.0769, "color": "#ffffff"}, {"offset": 0.1423, "color": "#ffffff"}, {"offset": 0.1423, "color": "#029E73"}, {"offset": 0.1538, "color": "#029E73"},
           {"offset": 0.1538, "color": "#ffffff"}, {"offset": 0.2192, "color": "#ffffff"}, {"offset": 0.2192, "color": "#029E73"}, {"offset": 0.2308, "color": "#029E73"},
           {"offset": 0.2308, "color": "#ffffff"}, {"offset": 0.2962, "color": "#ffffff"}, {"offset": 0.2962, "color": "#029E73"}, {"offset": 0.3077, "color": "#029E73"},
           {"offset": 0.3077, "color": "#ffffff"}, {"offset": 0.3731, "color": "#ffffff"}, {"offset": 0.3731, "color": "#029E73"}, {"offset": 0.3846, "color": "#029E73"},
           {"offset": 0.3846, "color": "#ffffff"}, {"offset": 0.45, "color": "#ffffff"}, {"offset": 0.45, "color": "#029E73"}, {"offset": 0.4615, "color": "#029E73"},
           {"offset": 0.4615, "color": "#ffffff"}, {"offset": 0.5269, "color": "#ffffff"}, {"offset": 0.5269, "color": "#029E73"}, {"offset": 0.5385, "color": "#029E73"},
           {"offset": 0.5385, "color": "#ffffff"}, {"offset": 0.6038, "color": "#ffffff"}, {"offset": 0.6038, "color": "#029E73"}, {"offset": 0.6154, "color": "#029E73"},
           {"offset": 0.6154, "color": "#ffffff"}, {"offset": 0.6808, "color": "#ffffff"}, {"offset": 0.6808, "color": "#029E73"}, {"offset": 0.6923, "color": "#029E73"},
           {"offset": 0.6923, "color": "#ffffff"}, {"offset": 0.7577, "color": "#ffffff"}, {"offset": 0.7577, "color": "#029E73"}, {"offset": 0.7692, "color": "#029E73"},
           {"offset": 0.7692, "color": "#ffffff"}, {"offset": 0.8346, "color": "#ffffff"}, {"offset": 0.8346, "color": "#029E73"}, {"offset": 0.8462, "color": "#029E73"},
           {"offset": 0.8462, "color": "#ffffff"}, {"offset": 0.9115, "color": "#ffffff"}, {"offset": 0.9115, "color": "#029E73"}, {"offset": 0.9231, "color": "#029E73"},
           {"offset": 0.9231, "color": "#ffffff"}, {"offset": 0.9885, "color": "#ffffff"}, {"offset": 0.9885, "color": "#029E73"}, {"offset": 1, "color": "#029E73"}]}},
         "encoding": {
           "x": {"field": "ctx", "type": "nominal", "title": "Context Length", "scale": {"domain": ["1K", "8K", "16K", "32K"], "paddingInner": 0, "paddingOuter": 0.036}},
           "xOffset": {"field": "slot", "type": "nominal", "scale": {"domain": ["_l", "lrV", "lrH", "skV", "skH", "nkV", "nkH", "_r"], "paddingInner": 0, "paddingOuter": 0.59}},
           "y": {"datum": 1.839, "type": "quantitative"}, "y2": {"datum": 0.75}}},
        {"data": {"name": "bars"}, "transform": [{"filter": "datum.phase==='Decode' && datum.kind==='Vanilla'"}],
         "mark": {"type": "bar", "orient": "vertical", "width": 13.2, "strokeWidth": 0, "fill": "white", "clip": true},
         "encoding": {
           "x": {"field": "ctx", "type": "nominal", "title": "Context Length", "scale": {"domain": ["1K", "8K", "16K", "32K"], "paddingInner": 0, "paddingOuter": 0.036}},
           "xOffset": {"field": "slot", "type": "nominal", "scale": {"domain": ["_l", "lrV", "lrH", "skV", "skH", "nkV", "nkH", "_r"], "paddingInner": 0, "paddingOuter": 0.59}},
           "y": {"field": "speedup", "type": "quantitative", "title": "Speedup", "scale": {"domain": [0.75, 1.839], "nice": false, "zero": false}, "axis": {"values": [0.75, 1, 1.25, 1.5, 1.75], "format": ".2f"}},
           "y2": {"datum": 2.6}}},
        {"data": {"name": "bars"}, "transform": [{"filter": "datum.phase==='Decode' && datum.kind==='Vanilla'"}],
         "mark": {"type": "bar", "orient": "vertical", "width": 12.2, "fillOpacity": 0, "strokeWidth": 2},
         "encoding": {
           "x": {"field": "ctx", "type": "nominal", "title": "Context Length", "scale": {"domain": ["1K", "8K", "16K", "32K"], "paddingInner": 0, "paddingOuter": 0.036}},
           "xOffset": {"field": "slot", "type": "nominal", "scale": {"domain": ["_l", "lrV", "lrH", "skV", "skH", "nkV", "nkH", "_r"], "paddingInner": 0, "paddingOuter": 0.59}},
           "y": {"field": "speedup", "type": "quantitative", "title": "Speedup", "scale": {"domain": [0.75, 1.839], "nice": false, "zero": false}, "axis": {"values": [0.75, 1, 1.25, 1.5, 1.75], "format": ".2f"}},
           "y2": {"datum": 0.75},
           "stroke": {"field": "method", "type": "nominal", "scale": {"domain": ["lr", "sk", "nk"], "range": ["#0173B2", "#EE7A35", "#029E73"]}, "legend": null}}},
        {"data": {"name": "bars"}, "transform": [{"filter": "datum.phase==='Decode' && datum.kind==='Hybrid'"}],
         "mark": {"type": "bar", "orient": "vertical", "width": 12.2, "stroke": "white", "strokeWidth": 1.2},
         "encoding": {
           "x": {"field": "ctx", "type": "nominal", "title": "Context Length", "scale": {"domain": ["1K", "8K", "16K", "32K"], "paddingInner": 0, "paddingOuter": 0.036}},
           "xOffset": {"field": "slot", "type": "nominal", "scale": {"domain": ["_l", "lrV", "lrH", "skV", "skH", "nkV", "nkH", "_r"], "paddingInner": 0, "paddingOuter": 0.59}},
           "y": {"field": "speedup", "type": "quantitative", "title": "Speedup", "scale": {"domain": [0.75, 1.839], "nice": false, "zero": false}, "axis": {"values": [0.75, 1, 1.25, 1.5, 1.75], "format": ".2f"}},
           "y2": {"datum": 0.75},
           "fill": {"field": "method", "type": "nominal", "scale": {"domain": ["lr", "sk", "nk"], "range": ["#0173B2", "#EE7A35", "#029E73"]}, "legend": null}}},
        {"data": {"name": "bars"}, "transform": [{"filter": "datum.phase==='Decode' && datum.kind==='Hybrid'"}],
         "mark": {"type": "text", "angle": 270, "align": "left", "baseline": "middle", "dx": 5, "fontSize": 14, "fontWeight": "bold"},
         "encoding": {
           "x": {"field": "ctx", "type": "nominal", "title": "Context Length", "scale": {"domain": ["1K", "8K", "16K", "32K"], "paddingInner": 0, "paddingOuter": 0.036}},
           "xOffset": {"field": "slot", "type": "nominal", "scale": {"domain": ["_l", "lrV", "lrH", "skV", "skH", "nkV", "nkH", "_r"], "paddingInner": 0, "paddingOuter": 0.59}},
           "y": {"field": "speedup", "type": "quantitative", "title": "Speedup", "scale": {"domain": [0.75, 1.839], "nice": false, "zero": false}, "axis": {"values": [0.75, 1, 1.25, 1.5, 1.75], "format": ".2f"}},
           "text": {"field": "label"},
           "fill": {"field": "method", "type": "nominal", "scale": {"domain": ["lr", "sk", "nk"], "range": ["#0173B2", "#EE7A35", "#029E73"]}, "legend": null}}}
      ]
    }
  ]
}
